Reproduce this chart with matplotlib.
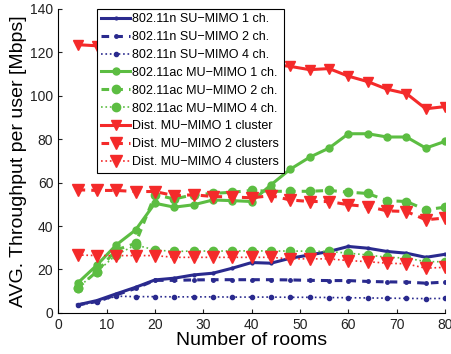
import numpy as np
import matplotlib
matplotlib.use("Agg")
import matplotlib.pyplot as plt

plt.rcParams['font.family'] = ['Liberation Sans', 'DejaVu Sans']

rooms = [4, 8, 12, 16, 20, 24, 28, 32, 36, 40, 44, 48, 52, 56, 60, 64, 68, 72, 76, 80]

su_1ch = [3.7, 5.7, 8.8, 11.8, 15.2, 16.0, 17.5, 18.3, 20.6, 23.2, 22.9, 25.2, 26.7, 28.3, 30.6, 29.8, 28.3, 27.5, 25.6, 27.0]
su_2ch = [3.7, 5.2, 8.3, 11.3, 15.0, 15.0, 15.2, 15.3, 15.3, 15.3, 15.3, 15.2, 15.0, 14.9, 14.9, 14.5, 14.3, 14.2, 13.7, 14.2]
su_4ch = [3.5, 5.0, 7.7, 7.5, 7.5, 7.4, 7.4, 7.4, 7.3, 7.3, 7.3, 7.2, 7.2, 7.1, 7.0, 6.9, 6.8, 6.7, 6.6, 6.7]

mu_1ch = [13.7, 22.0, 31.3, 38.2, 50.5, 48.7, 49.8, 52.0, 51.7, 51.3, 59.0, 66.2, 71.7, 75.9, 82.5, 82.5, 81.0, 81.0, 75.9, 79.0]
mu_2ch = [11.5, 19.0, 29.0, 32.0, 54.4, 52.5, 54.4, 55.0, 55.6, 56.4, 56.0, 56.0, 56.0, 56.4, 55.6, 55.0, 51.7, 51.3, 47.5, 48.7]
mu_4ch = [11.5, 19.0, 26.7, 31.3, 29.0, 28.3, 28.5, 28.5, 28.5, 28.6, 28.5, 28.5, 28.4, 28.3, 27.5, 26.7, 25.6, 25.3, 23.6, 23.6]

dist_1 = [123.5, 123.0, 122.0, 121.0, 120.0, 119.0, 118.0, 117.0, 116.0, 115.0, 114.5, 113.5, 112.0, 112.5, 109.0, 106.5, 103.0, 101.0, 94.0, 95.0]
dist_2 = [56.7, 56.4, 56.4, 55.9, 55.9, 54.0, 54.4, 53.6, 53.4, 53.0, 54.0, 52.0, 51.3, 51.3, 49.8, 49.0, 47.0, 46.7, 42.9, 43.7]
dist_4 = [26.7, 26.4, 26.4, 26.4, 26.4, 25.6, 25.6, 25.6, 25.6, 25.6, 25.6, 24.9, 24.9, 24.9, 24.1, 23.6, 22.9, 22.6, 20.6, 21.0]

blue = '#2a2a8e'
green = '#5cbd42'
red = '#f42a2a'

fig = plt.figure(figsize=(4.51, 3.54), dpi=100)
ax = fig.add_axes([0.129, 0.116, 0.858, 0.859])

ax.plot(rooms, su_1ch, '-', color=blue, lw=2.2, marker='.', ms=4, label='802.11n SU\u2212MIMO 1 ch.')
ax.plot(rooms, su_2ch, '--', color=blue, lw=2.2, marker='.', ms=5, dashes=(2.5, 2), label='802.11n SU\u2212MIMO 2 ch.')
ax.plot(rooms, su_4ch, ':', color=blue, lw=1.2, marker='.', ms=6, label='802.11n SU\u2212MIMO 4 ch.')

ax.plot(rooms, mu_1ch, '-', color=green, lw=2.2, marker='o', ms=5, label='802.11ac MU\u2212MIMO 1 ch.')
ax.plot(rooms, mu_2ch, '--', color=green, lw=2.2, marker='o', ms=6, dashes=(2.5, 2), label='802.11ac MU\u2212MIMO 2 ch.')
ax.plot(rooms, mu_4ch, ':', color=green, lw=1.2, marker='o', ms=6, label='802.11ac MU\u2212MIMO 4 ch.')

ax.plot(rooms, dist_1, '-', color=red, lw=2.2, marker='v', ms=7, label='Dist. MU\u2212MIMO 1 cluster')
ax.plot(rooms, dist_2, '--', color=red, lw=2.2, marker='v', ms=8, dashes=(2.5, 2), label='Dist. MU\u2212MIMO 2 clusters')
ax.plot(rooms, dist_4, ':', color=red, lw=1.2, marker='v', ms=8, label='Dist. MU\u2212MIMO 4 clusters')

ax.set_xlim(0, 80)
ax.set_ylim(0, 140)
ax.set_xticks(range(0, 81, 10))
ax.set_yticks(range(0, 141, 20))
ax.spines['top'].set_visible(False)
ax.spines['right'].set_visible(False)
ax.tick_params(direction='in', labelsize=10, length=3, colors='#222222')
ax.set_xlabel('Number of rooms', fontsize=14, labelpad=0)
ax.set_ylabel('AVG. Throughput per user [Mbps]', fontsize=14, labelpad=2)

leg = ax.legend(loc='upper left', bbox_to_anchor=(0.1, 1.0), fontsize=9, frameon=True,
                fancybox=False, edgecolor='black', framealpha=1, handlelength=2.3,
                handletextpad=0.2, labelspacing=0.47, borderpad=0.35, borderaxespad=0)
leg.get_frame().set_linewidth(0.8)

fig.savefig('out.png', dpi=100)
